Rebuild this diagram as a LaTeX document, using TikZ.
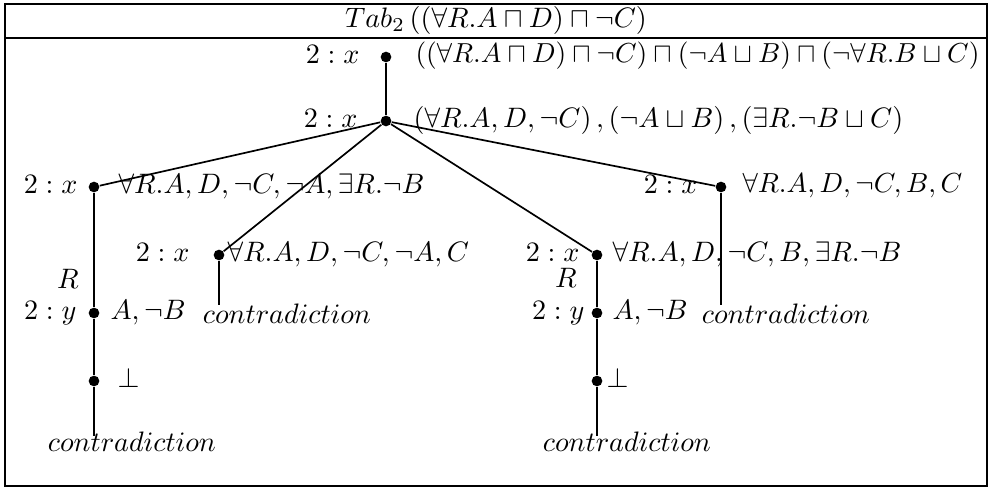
\documentclass[tikz,border=0pt]{standalone}
\usepackage{amsmath}
\usepackage{amssymb}
\usetikzlibrary{positioning}

\tikzset{
  dot/.style={circle, fill, inner sep=0pt, minimum size=3.8pt},
  lbl/.style={inner sep=0pt},
  edge/.style={line width=0.6pt},
}

\begin{document}
\begin{tikzpicture}[x=0.0125cm, y=-0.0125cm]
        \useasboundingbox (0,0) rectangle (992,492);
        % Frame and header
        \draw[line width=0.8pt] (5,4) rectangle (987,486);
        \draw[line width=0.9pt] (5,38) -- (987,38);
        \node[lbl] (title) at (496,20) {$Tab_2\,((\forall R.A\sqcap D)\sqcap\neg C)$};

        % Tree points
        \node[dot] (r) at (386,57) {};
        \node[dot] (s) at (386,121) {};
        \node[dot] (a) at (94,187) {};
        \node[dot] (b) at (219,255) {};
        \node[dot] (c) at (597,255) {};
        \node[dot] (d) at (721,187) {};
        \node[dot] (ay) at (94,313) {};
        \node[dot] (abot) at (94,381) {};
        \node[dot] (cy) at (597,313) {};
        \node[dot] (cbot) at (597,381) {};

        % Names on the left
        \node[lbl, anchor=mid east] (rname) at (360,57) {$2:x$};
        \node[lbl, anchor=mid east] (sname) at (358,121) {$2:x$};
        \node[lbl, anchor=mid east] (aname) at (78,187) {$2:x$};
        \node[lbl, anchor=mid east] (bname) at (190,255) {$2:x$};
        \node[lbl, anchor=mid east] (cname) at (580,255) {$2:x$};
        \node[lbl, anchor=mid east] (dname) at (698,187) {$2:x$};
        \node[lbl, anchor=mid east] (ayname) at (77,313) {$2:y$};
        \node[lbl, anchor=mid east] (cyname) at (585,313) {$2:y$};
        \node[lbl] (arole) at (68,279) {$R$};
        \node[lbl] (crole) at (566,278) {$R$};

        % Formulas on the right
        \node[lbl, anchor=mid west, scale=0.977] (rform) at (415,57) {$((\forall R.A\sqcap D)\sqcap\neg C)\sqcap(\neg A\sqcup B)\sqcap(\neg\forall R.B\sqcup C)$};
        \node[lbl, anchor=mid west] (sform) at (413,121) {$(\forall R.A, D, \neg C)\,,(\neg A\sqcup B)\,,(\exists R.\neg B\sqcup C)$};
        \node[lbl, anchor=mid west] (aform) at (118,187) {$\forall R.A, D, \neg C, \neg A, \exists R.\neg B$};
        \node[lbl, anchor=mid west] (bform) at (227,255) {$\forall R.A, D, \neg C, \neg A, C$};
        \node[lbl, anchor=mid west] (cform) at (612,255) {$\forall R.A, D, \neg C, B, \exists R.\neg B$};
        \node[lbl, anchor=mid west, scale=0.98] (dform) at (742,187) {$\forall R.A, D, \neg C, B, C$};
        \node[lbl, anchor=mid west] (ayform) at (110,313) {$A, \neg B$};
        \node[lbl, anchor=mid west] (cyform) at (612,313) {$A, \neg B$};
        \node[lbl, anchor=mid west] (abotform) at (117,381) {$\bot$};
        \node[lbl, anchor=mid west] (cbotform) at (606,381) {$\bot$};

        % Closed branches
        \node[lbl] (acon) at (132,442) {$contradiction$};
        \node[lbl] (bcon) at (287,314) {$contradiction$};
        \node[lbl] (ccon) at (627,442) {$contradiction$};
        \node[lbl] (dcon) at (786,314) {$contradiction$};
        \coordinate (aend) at (94,436);
        \coordinate (bend) at (219,305);
        \coordinate (cend) at (597,436);
        \coordinate (dend) at (721,305);

        % Edges
        \draw[edge] (r) -- (s);
        \draw[edge] (s) -- (a);
        \draw[edge] (s) -- (b);
        \draw[edge] (s) -- (c);
        \draw[edge] (s) -- (d);
        \draw[edge] (a) -- (ay) -- (abot) -- (aend);
        \draw[edge] (b) -- (bend);
        \draw[edge] (c) -- (cy) -- (cbot) -- (cend);
        \draw[edge] (d) -- (dend);
    \end{tikzpicture}
\end{document}
